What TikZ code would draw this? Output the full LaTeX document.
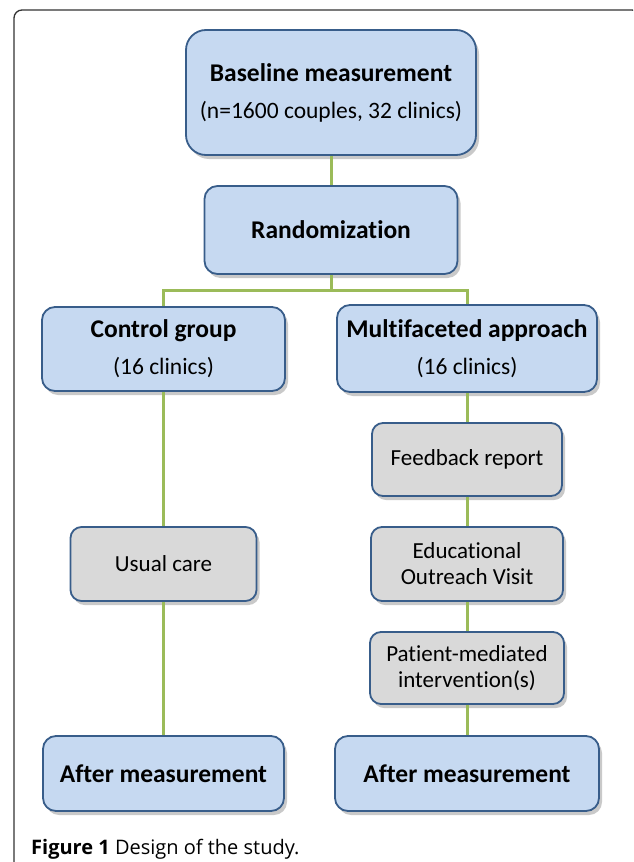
\documentclass[tikz,border=0pt]{standalone}
\usepackage{fontspec}
\setmainfont[Ligatures=NoCommon]{Carlito}
\newfontfamily\captionfont{Open Sans}
\usetikzlibrary{shadows}
\definecolor{boxblue}{HTML}{C6D9F1}
\definecolor{boxgray}{HTML}{D9D9D9}
\definecolor{edgeblue}{HTML}{385D8A}
\definecolor{linkgreen}{HTML}{9BBB59}
\definecolor{framegray}{HTML}{333333}
\tikzset{
  stage/.style={draw=edgeblue, line width=1.8pt, fill=boxblue, rounded corners=13pt,
    align=center, inner sep=0pt,
    font=\fontsize{23.5}{37}\selectfont,
    drop shadow={shadow xshift=3pt, shadow yshift=-4pt, opacity=0.3, fill=black!70}},
  action/.style={stage, fill=boxgray, rounded corners=11pt, font=\fontsize{23}{26}\selectfont},
  link/.style={draw=linkgreen, line width=3pt},
}
\newcommand{\boxtitle}[1]{{\fontsize{25.5}{37}\selectfont\bfseries #1}}
\begin{document}
\begin{tikzpicture}[x=1pt, y=-1pt]
\useasboundingbox (0,0) rectangle (633,862);
\clip (0,0) rectangle (633,862);
% frame round the figure
\draw[framegray, line width=1.3pt, rounded corners=8pt] (14,870) -- (14,10) -- (640,10) -- (640,870);
% boxes
\node[stage, minimum width=290pt, minimum height=125pt, rounded corners=20pt] (base) at (331,92.5)
  {\boxtitle{Baseline measurement}\\(n=1600 couples, 32 clinics)};
\node[stage, minimum width=253pt, minimum height=88pt] (rand) at (331,230) {\boxtitle{Randomization}};
\node[stage, minimum width=243pt, minimum height=84pt] (ctrl) at (163.5,349)
  {\boxtitle{Control group}\\(16 clinics)};
\node[stage, minimum width=260pt, minimum height=87pt] (multi) at (467,348.5)
  {\boxtitle{Multifaceted approach}\\(16 clinics)};
\node[action, minimum width=190pt, minimum height=73pt] (feed) at (467,459.5) {Feedback report};
\node[action, minimum width=186pt, minimum height=74pt] (usual) at (163.5,564) {Usual care};
\node[action, minimum width=192pt, minimum height=74pt] (edu) at (467,564) {Educational\\Outreach Visit};
\node[action, minimum width=194pt, minimum height=72pt] (pat) at (467,668) {Patient-mediated\\intervention(s)};
\node[stage, minimum width=241pt, minimum height=75pt] (afterL) at (163.5,773.5) {\boxtitle{After measurement}};
\node[stage, minimum width=264pt, minimum height=75pt] (afterR) at (467,773.5) {\boxtitle{After measurement}};
% connectors
\coordinate (fork) at (331,290);
\draw[link] (base) -- (rand);
\draw[link] (rand) -- (fork);
\draw[link] (fork) -| (ctrl);
\draw[link] (fork) -| (multi);
\draw[link] (ctrl) -- (usual);
\draw[link] (usual) -- (afterL);
\draw[link] (multi) -- (feed);
\draw[link] (feed) -- (edu);
\draw[link] (edu) -- (pat);
\draw[link] (pat) -- (afterR);
% caption
\node[anchor=base west, inner sep=0pt, font=\captionfont\fontsize{20}{24}\selectfont] (caption) at (31,854)
  {\textbf{Figure 1} Design of the study.};
\end{tikzpicture}
\end{document}
